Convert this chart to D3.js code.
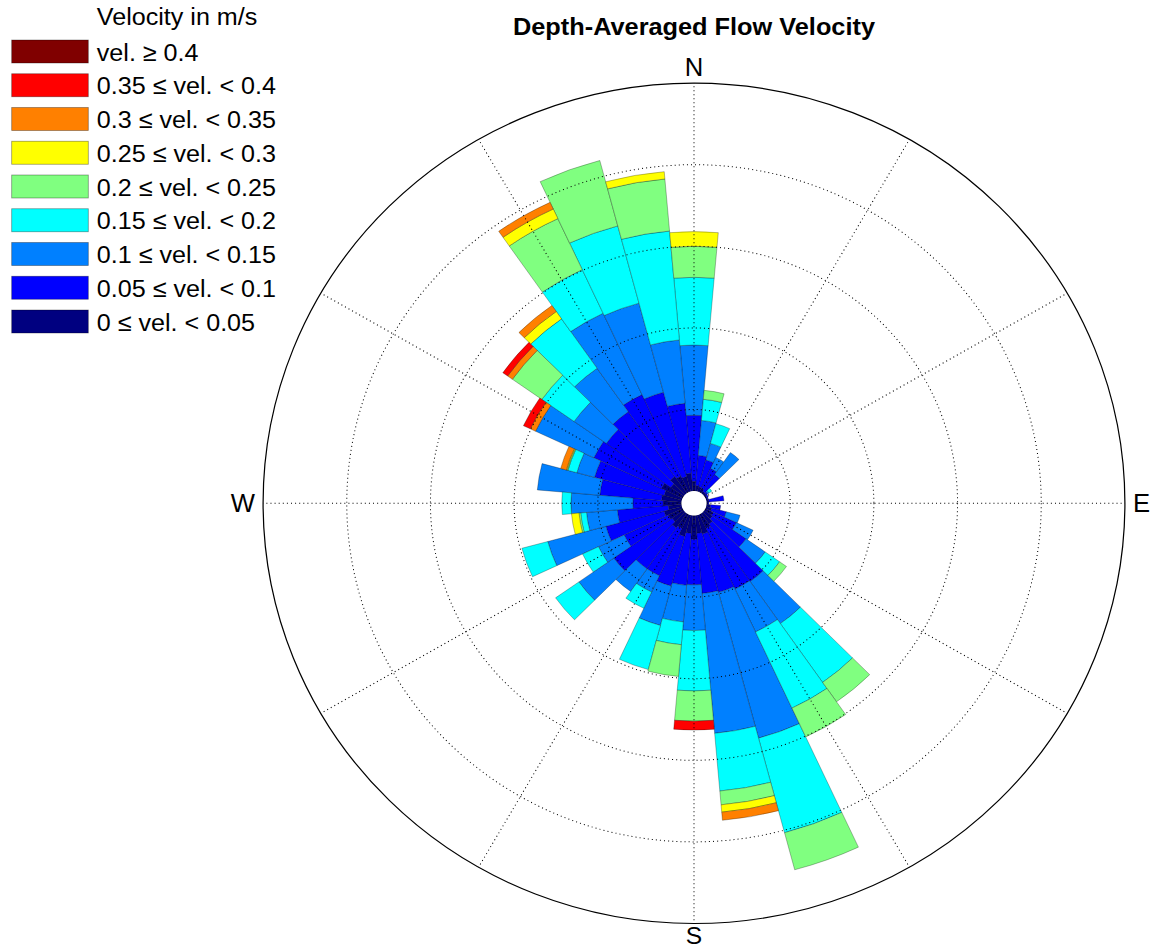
<!DOCTYPE html>
<html>
<head>
<meta charset="utf-8">
<script src="https://cdn.jsdelivr.net/npm/d3@7"></script>
<style>
  html, body { margin: 0; padding: 0; background: #fff; }
  svg { display: block; }
  text { font-family: "Liberation Sans", Arial, Helvetica, sans-serif; fill: #000; }
</style>
</head>
<body>
<svg id="chart" width="1151" height="949"></svg>
<script>
// Direction bins (degrees clockwise from north), 10° wide
const directions = d3.range(0, 360, 10);

// Frequency of occurrence per direction bin for each velocity class (%),
// listed from 0° to 350°
const vel000to005 = [0.12,0.07,0.06,0.05,0.03,0.03,0.02,0.02,0.03,0.02, 0.05,0.07,0.10,0.12,0.16,0.19,0.24,0.22,0.29,0.22, 0.27,0.19,0.22,0.17,0.19,0.22,0.16,0.22,0.24,0.22, 0.28,0.19,0.25,0.22,0.19,0.22];
const vel005to010 = [0.81,0.37,0.34,0.27,0.25,0.02,0.02,0.01,0.18,0.01, 0.12,0.18,0.31,0.49,0.86,0.82,0.74,0.74,0.56,0.64, 0.63,0.64,0.61,0.85,0.58,0.72,0.61,0.36,0.74,0.86, 0.89,0.94,0.97,1.10,1.07,0.86];
const vel010to015 = [0.86,0.43,0.21,0.15,0.33,0.02,0,0,0,0, 0,0.17,0.22,0.28,0.63,0.58,1.85,1.72,0.56,0.45, 0.50,0.22,0.34,0.51,0.34,0.72,0.37,0.74,0.75,0.22, 0.77,0.47,0.65,1.10,1.13,0.78];
const vel015to020 = [0.83,0.26,0.25,0,0,0.04,0,0,0,0, 0,0,0,0.21,0.88,1.03,1.20,0.71,0.74,0.28, 0.56,0.22,0,0.34,0.21,0.32,0.07,0.11,0,0.11, 0,0.47,0.74,0.59,0.98,1.34];
const vel020to025 = [0.38,0.11,0,0,0,0,0,0,0,0, 0,0,0,0.10,0.29,0.39,0.47,0.17,0.37,0.39, 0,0,0,0,0,0,0.02,0,0,0.01, 0,0.43,0,0.69,0.83,0.64];
const vel025to030 = [0.18,0,0,0,0,0,0,0,0,0, 0,0,0,0,0,0,0,0.09,0,0, 0,0,0,0,0,0,0.09,0,0,0.01, 0,0,0.11,0.13,0,0.09];
const vel030to035 = [0,0,0,0,0,0,0,0,0,0, 0,0,0,0,0,0,0,0.10,0,0, 0,0,0,0,0,0,0,0,0,0.07, 0.07,0.07,0.09,0.09,0,0];
const vel035to040 = [0,0,0,0,0,0,0,0,0,0, 0,0,0,0,0,0,0,0,0.11,0, 0,0,0,0,0,0,0,0,0,0, 0.09,0.07,0,0,0,0];
const vel040up    = [0,0,0,0,0,0,0,0,0,0, 0,0,0,0,0,0,0,0,0,0, 0,0,0,0,0,0,0,0,0,0, 0,0,0,0,0,0];

// Velocity classes, slowest first (stacking order from the centre outwards)
const classKeys   = ["v0", "v1", "v2", "v3", "v4", "v5", "v6", "v7", "v8"];
const classSeries = [vel000to005, vel005to010, vel010to015, vel015to020, vel020to025,
                     vel025to030, vel030to035, vel035to040, vel040up];
const classLabels = ["0 \u2264 vel. < 0.05", "0.05 \u2264 vel. < 0.1", "0.1 \u2264 vel. < 0.15",
                     "0.15 \u2264 vel. < 0.2", "0.2 \u2264 vel. < 0.25", "0.25 \u2264 vel. < 0.3",
                     "0.3 \u2264 vel. < 0.35", "0.35 \u2264 vel. < 0.4", "vel. \u2265 0.4"];
const classColors = ["#000080", "#0000ff", "#0080ff", "#00ffff", "#80ff80",
                     "#ffff00", "#ff8000", "#ff0000", "#800000"];

// Radial grid (frequency %) and compass labels
const ringTicks = [1, 2, 3, 4, 5];
const spokeAngles = d3.range(0, 360, 30);
const compass = [
  { label: "N", angle: 0 }, { label: "E", angle: 90 },
  { label: "S", angle: 180 }, { label: "W", angle: 270 }
];
const chartTitle = "Depth-Averaged Flow Velocity";
const legendTitle = "Velocity in m/s";

// ---------------------------------------------------------------------------
const svg = d3.select("#chart");
const stretchX = 1.0255;                       // figure is slightly wider than tall
const root = svg.append("g").attr("transform", `scale(${stretchX},1)`);

const cx = 694 / stretchX, cy = 503.3;
const rScale = d3.scaleLinear().domain([0, 5]).range([12.2, 420.2]);
const toRad = d => d * Math.PI / 180;
const halfBin = toRad(5);

const rows = directions.map((dir, i) => {
  const row = { dir };
  classKeys.forEach((k, j) => { row[k] = classSeries[j][i]; });
  return row;
});
const stacked = d3.stack().keys(classKeys)(rows);

const rose = root.append("g").attr("transform", `translate(${cx},${cy})`);
const arc = d3.arc();

// Stacked wedges
stacked.forEach((layer, j) => {
  rose.append("g")
    .selectAll("path")
    .data(layer.filter(d => d[1] - d[0] > 0))
    .join("path")
    .attr("d", d => arc({
      innerRadius: rScale(d[0]),
      outerRadius: rScale(d[1]),
      startAngle: toRad(d.data.dir) - halfBin,
      endAngle: toRad(d.data.dir) + halfBin
    }))
    .attr("fill", classColors[j])
    .attr("stroke", "rgba(0,0,0,0.35)")
    .attr("stroke-width", 0.8);
});

// Grid drawn over the wedges
const grid = rose.append("g").attr("fill", "none");
grid.selectAll("line.spoke")
  .data(spokeAngles)
  .join("line")
  .attr("class", "spoke")
  .attr("x1", 0).attr("y1", 0)
  .attr("x2", a => rScale(5) * Math.sin(toRad(a)))
  .attr("y2", a => -rScale(5) * Math.cos(toRad(a)))
  .attr("stroke", "#000")
  .attr("stroke-width", 1)
  .attr("stroke-dasharray", "1,3");

grid.selectAll("circle.ring")
  .data(ringTicks.slice(0, -1))
  .join("circle")
  .attr("class", "ring")
  .attr("r", d => rScale(d))
  .attr("stroke", "#000")
  .attr("stroke-width", 1)
  .attr("stroke-dasharray", "1,3");

grid.append("circle")
  .attr("r", rScale(ringTicks[ringTicks.length - 1]))
  .attr("stroke", "#000")
  .attr("stroke-width", 1.2);

// Calm hole in the middle
rose.append("circle").attr("r", rScale(0)).attr("fill", "#fff");

// Compass labels
const rOut = rScale(5);
rose.selectAll("text.compass")
  .data(compass)
  .join("text")
  .attr("class", "compass")
  .attr("font-size", d => d.angle === 180 ? 24 : 25)
  .attr("text-anchor", d => d.angle === 90 ? "start" : d.angle === 270 ? "end" : "middle")
  .attr("x", d => d.angle === 90 ? rOut + 8 : d.angle === 270 ? -rOut - 8 : 0)
  .attr("y", d => d.angle === 0 ? -rOut - 7 : d.angle === 180 ? rOut + 20.5 : 8.5)
  .text(d => d.label);

// Title
root.append("text")
  .attr("x", cx).attr("y", 35)
  .attr("text-anchor", "middle")
  .attr("font-size", 24.7)
  .attr("font-weight", "bold")
  .text(chartTitle);

// Legend (fastest class on top)
const legend = root.append("g");
legend.append("text")
  .attr("x", 94.4).attr("y", 25)
  .attr("font-size", 24.5)
  .text(legendTitle);

const legendItems = d3.range(classKeys.length).reverse();
const rowY = d3.scaleLinear().domain([0, 1]).range([40, 73.75]);
const item = legend.selectAll("g.item")
  .data(legendItems)
  .join("g")
  .attr("class", "item")
  .attr("transform", (d, i) => `translate(0,${rowY(i)})`);
item.append("rect")
  .attr("x", 11.4).attr("y", 0)
  .attr("width", 74.7).attr("height", 23)
  .attr("fill", d => classColors[d])
  .attr("stroke", "rgba(0,0,0,0.4)")
  .attr("stroke-width", 0.8);
item.append("text")
  .attr("x", 94.4).attr("y", 20.5)
  .attr("font-size", 24.5)
  .text(d => classLabels[d]);
</script>
</body>
</html>
